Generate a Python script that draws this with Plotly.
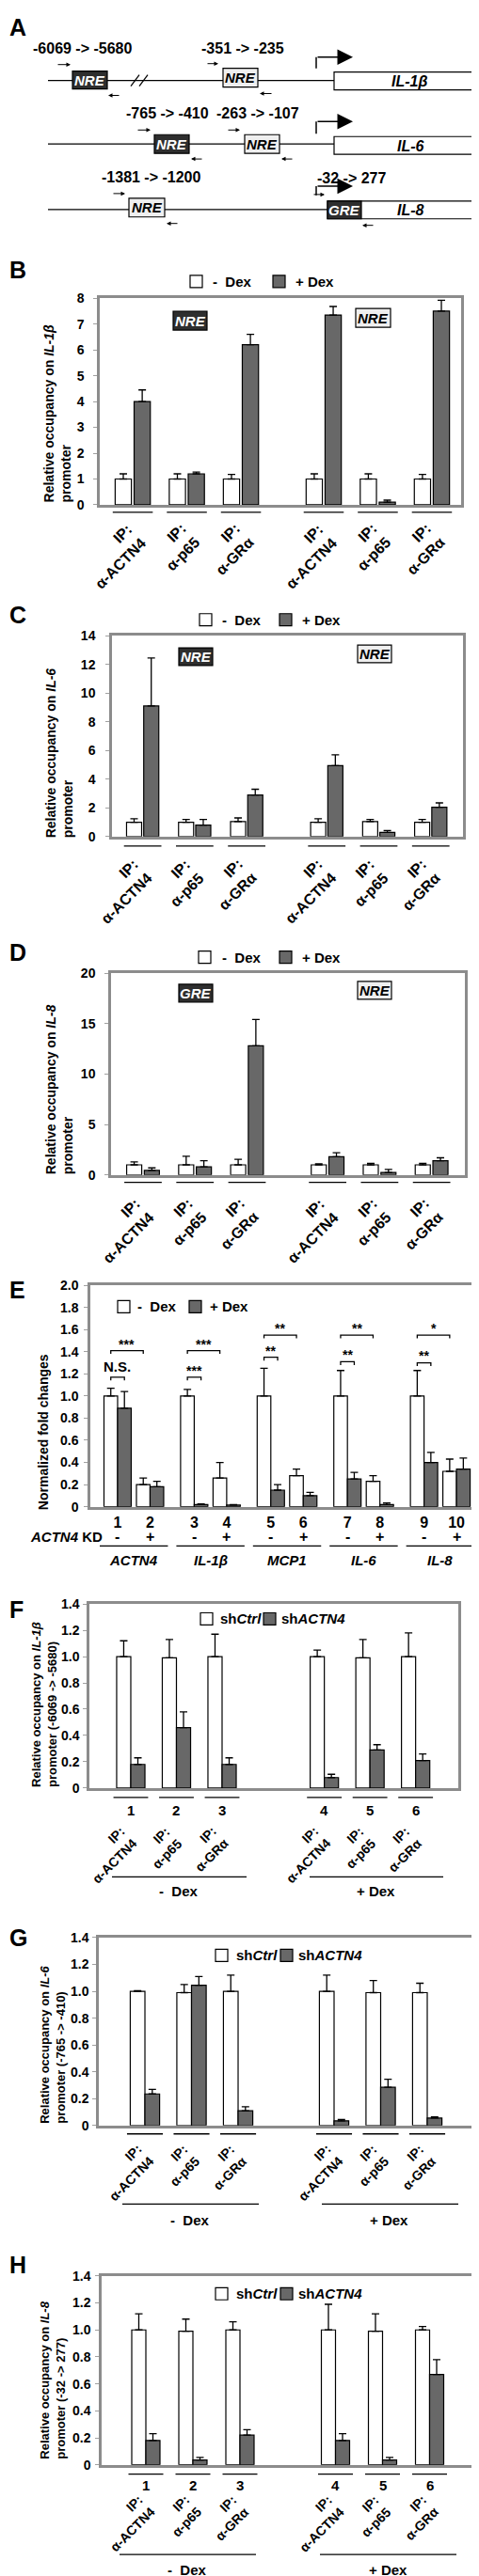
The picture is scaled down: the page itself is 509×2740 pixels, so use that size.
import plotly.graph_objects as go

# ---------------- data ----------------
ip_labels = ["IP:<br>α-ACTN4", "IP:<br>α-p65", "IP:<br>α-GRα",
             "IP:<br>α-ACTN4", "IP:<br>α-p65", "IP:<br>α-GRα"]
dex_labels = ["-  Dex", "+ Dex"]
sh_labels = ["sh<i>Ctrl</i>", "sh<i>ACTN4</i>"]

# B: IL-1beta promoter occupancy
B_minus = [1.0, 1.0, 1.0, 1.0, 1.0, 1.0]
B_minus_err = [0.2, 0.2, 0.18, 0.2, 0.2, 0.18]
B_plus = [4.0, 1.2, 6.2, 7.35, 0.1, 7.5]
B_plus_err = [0.45, 0.07, 0.4, 0.33, 0.08, 0.42]

# C: IL-6 promoter occupancy
C_minus = [1.0, 1.0, 1.05, 1.0, 1.05, 1.0]
C_minus_err = [0.25, 0.2, 0.25, 0.25, 0.15, 0.2]
C_plus = [9.1, 0.8, 2.9, 4.95, 0.3, 2.05]
C_plus_err = [3.35, 0.4, 0.4, 0.75, 0.12, 0.3]

# D: IL-8 promoter occupancy
D_minus = [1.0, 1.0, 1.0, 1.0, 1.0, 1.0]
D_minus_err = [0.3, 0.85, 0.55, 0.1, 0.15, 0.15]
D_plus = [0.45, 0.8, 12.8, 1.8, 0.25, 1.4]
D_plus_err = [0.25, 0.6, 2.6, 0.4, 0.3, 0.3]

# E: normalized fold changes
E_genes = ["<i>ACTN4</i>", "<i>IL-1β</i>", "<i>MCP1</i>", "<i>IL-6</i>", "<i>IL-8</i>"]
E_lanes = ["1", "2", "3", "4", "5", "6", "7", "8", "9", "10"]
E_kd = ["-", "+", "-", "+", "-", "+", "-", "+", "-", "+"]
E_minus = [1.0, 0.2, 1.0, 0.26, 1.0, 0.28, 1.0, 0.23, 1.0, 0.32]
E_minus_err = [0.07, 0.06, 0.06, 0.14, 0.25, 0.06, 0.23, 0.05, 0.23, 0.11]
E_plus = [0.89, 0.18, 0.02, 0.015, 0.15, 0.1, 0.25, 0.02, 0.4, 0.34]
E_plus_err = [0.15, 0.05, 0.005, 0.005, 0.05, 0.03, 0.06, 0.015, 0.09, 0.1]
E_sig_inner = ["N.S.", "***", "**", "**", "**"]
E_sig_outer = ["***", "***", "**", "**", "*"]
E_sig_inner_y = [1.17, 1.17, 1.35, 1.31, 1.30]
E_sig_outer_y = [1.41, 1.41, 1.55, 1.55, 1.55]

# F: IL-1beta promoter (-6069 -> -5680)
lanes6 = ["1", "2", "3", "4", "5", "6"]
F_ctrl = [1.0, 0.99, 1.0, 1.0, 0.99, 1.0]
F_ctrl_err = [0.12, 0.14, 0.17, 0.05, 0.14, 0.18]
F_kd = [0.18, 0.46, 0.18, 0.08, 0.29, 0.21]
F_kd_err = [0.05, 0.12, 0.05, 0.025, 0.04, 0.05]

# G: IL-6 promoter (-765 -> -410)
G_ctrl = [1.0, 0.99, 1.0, 1.0, 0.99, 0.99]
G_ctrl_err = [0.005, 0.06, 0.12, 0.12, 0.09, 0.07]
G_kd = [0.235, 1.045, 0.11, 0.035, 0.285, 0.055]
G_kd_err = [0.035, 0.065, 0.03, 0.01, 0.06, 0.01]

# H: IL-8 promoter (-32 -> 277)
H_ctrl = [1.0, 0.99, 1.0, 1.0, 0.99, 1.0]
H_ctrl_err = [0.12, 0.09, 0.06, 0.19, 0.13, 0.025]
H_kd = [0.18, 0.035, 0.22, 0.18, 0.035, 0.67]
H_kd_err = [0.05, 0.02, 0.04, 0.05, 0.02, 0.11]

# ---------------- helpers ----------------
W, H = 509, 2740
FONT = "Liberation Sans, Arial, Helvetica, sans-serif"
DARK = "#686868"
BOXDARK = "#2e2e2e"
FRAME = "#8c8c8c"


def px(x):
    return x / W


def py(y):
    return 1 - y / H


fig = go.Figure()
shapes, annos, lay = [], [], {}


def fnt(size, color="black"):
    return dict(family=FONT, size=size, color=color, weight="bold")


def txt(x, y, s, size=14, xanchor="center", yanchor="middle", color="black",
        xref="paper", yref="paper", angle=0, align="center"):
    annos.append(dict(x=x, y=y, xref=xref, yref=yref, text=s, showarrow=False,
                      xanchor=xanchor, yanchor=yanchor, font=fnt(size, color),
                      textangle=angle, align=align))


def line_px(x0, y0, x1, y1, w=1.3, color="black"):
    shapes.append(dict(type="line", xref="paper", yref="paper", x0=px(x0), y0=py(y0),
                       x1=px(x1), y1=py(y1), line=dict(color=color, width=w)))


def rect_px(x0, y0, x1, y1, fill, lw=1.2):
    shapes.append(dict(type="rect", xref="paper", yref="paper", x0=px(x0), y0=py(y1),
                       x1=px(x1), y1=py(y0), fillcolor=fill, line=dict(color="black", width=lw)))


def arrow_px(xh, yh, dx, w=1.0, head=2, size=0.9):
    annos.append(dict(x=px(xh), y=py(yh), xref="paper", yref="paper", ax=-dx, ay=0,
                      text="", showarrow=True, arrowhead=head, arrowsize=size,
                      arrowwidth=w, arrowcolor="black", standoff=0))


def elem_box(x0, y0, x1, y1, label, dark):
    rect_px(x0, y0, x1, y1, BOXDARK if dark else "#efefef")
    txt(px((x0 + x1) / 2), py((y0 + y1) / 2), "<i>%s</i>" % label, 15,
        color="white" if dark else "black")


def legend(y, wx, wtx, dx, dtx, labels, size=15):
    rect_px(wx, y - 6.5, wx + 13, y + 6.5, "white")
    txt(px(wtx), py(y), labels[0], size, xanchor="left")
    rect_px(dx, y - 6.5, dx + 13, y + 6.5, DARK)
    txt(px(dtx), py(y), labels[1], size, xanchor="left")


def bar_panel(i, box, pos, xr, yr, ytv, ytt, ystand,
              white, werr, dark, derr, bw, ig, xtt=None, xfs=16, xlen=0):
    sfx = "" if i == 1 else str(i)
    l, t, r, b = box
    xa = dict(domain=[px(l), px(r)], range=xr, anchor="y" + sfx,
              showline=True, mirror=True, linecolor=FRAME, linewidth=2.5,
              showgrid=False, zeroline=False, fixedrange=True, ticks="")
    if xtt is None:
        xa["showticklabels"] = False
    else:
        xa.update(tickmode="array", tickvals=pos, ticktext=xtt, tickangle=0,
                  ticks="", tickfont=fnt(xfs))
    lay["xaxis" + sfx] = xa
    lay["yaxis" + sfx] = dict(domain=[py(b), py(t)], range=yr, anchor="x" + sfx,
                              showline=True, mirror=True, linecolor=FRAME, linewidth=2.5,
                              showgrid=False, zeroline=False, tickmode="array",
                              tickvals=ytv, ticktext=ytt, ticks="outside", ticklen=4,
                              tickcolor="#a0a0a0", tickwidth=1, ticklabelstandoff=ystand,
                              tickfont=fnt(14), fixedrange=True)
    for vals, errs, fill, off in ((white, werr, "white", -bw - ig / 2),
                                  (dark, derr, DARK, ig / 2)):
        fig.add_trace(go.Bar(x=pos, y=vals, width=bw, offset=off,
                             marker=dict(color=fill, line=dict(color="black", width=1.2)),
                             error_y=dict(type="data", symmetric=False, array=errs,
                                          arrayminus=[0] * len(errs), color="black",
                                          thickness=1.3, width=4),
                             xaxis="x" + sfx, yaxis="y" + sfx, showlegend=False,
                             hoverinfo="skip"))


def rot_labels(i, pos, labels, dx, top, size):
    sfx = "" if i == 1 else str(i)
    for p, s in zip(pos, labels):
        annos.append(dict(x=p + dx, y=py(top), xref="x" + sfx, yref="paper", text=s,
                          showarrow=False, xanchor="right", yanchor="top", textangle=-45,
                          align="right", font=fnt(size)))


def group_lines(i, pos, ypix, half):
    sfx = "" if i == 1 else str(i)
    for p in pos:
        shapes.append(dict(type="line", xref="x" + sfx, yref="paper", x0=p - half, x1=p + half,
                           y0=py(ypix), y1=py(ypix), line=dict(color="black", width=1.3)))


def six_pos(gap):
    return [k + (gap if k >= 3 else 0) for k in range(6)]


def ytitle(xc, ybot, s, size=14):
    annos.append(dict(x=px(xc), y=py(ybot), xref="paper", yref="paper", text=s,
                      showarrow=False, xanchor="center", yanchor="bottom",
                      textangle=-90, align="left", font=fnt(size)))


# ---------------- panel labels ----------------
for lab, yc in (("A", 13), ("B", 273), ("C", 642), ("D", 1003), ("E", 1364),
                ("F", 1706), ("G", 2057), ("H", 2407)):
    txt(px(0), py(yc), lab, 25, xanchor="left")

# ---------------- panel A (schematic) ----------------
# IL-1beta
line_px(43, 70, 347, 70)
line_px(131, 76, 140, 64)
line_px(140, 76, 149, 64)
rect_px(347, 61, 508, 80, "white")
txt(px(427), py(71), "<i>IL-1β</i>", 16)
elem_box(69, 60, 106, 79, "NRE", True)
elem_box(229, 57, 266, 77, "NRE", False)
line_px(328, 57, 328, 45, 1.5)
arrow_px(367, 45, 39, 1.5, 2, 2.2)
txt(px(80), py(36), "-6069 -> -5680", 16)
txt(px(250), py(36), "-351 -> -235", 16)
arrow_px(67, 53, 15)
arrow_px(107, 86, -13)
arrow_px(224, 52, 13)
arrow_px(268, 84, -14)
# IL-6
line_px(43, 138, 347, 138)
rect_px(347, 130, 508, 149, "white")
txt(px(428), py(140), "<i>IL-6</i>", 16)
elem_box(156, 128, 193, 148, "NRE", True)
elem_box(252, 128, 289, 148, "NRE", False)
line_px(328, 127, 328, 114, 1.5)
arrow_px(367, 114, 39, 1.5, 2, 2.2)
txt(px(170), py(105), "-765 -> -410", 16)
txt(px(266), py(105), "-263 -> -107", 16)
arrow_px(152, 123, 15)
arrow_px(195, 154, -13)
arrow_px(247, 123, 14)
arrow_px(291, 154, -13)
# IL-8
line_px(43, 208, 340, 208)
rect_px(340, 199, 508, 218, "white")
txt(px(428), py(209), "<i>IL-8</i>", 16)
elem_box(129, 196, 167, 216, "NRE", False)
elem_box(340, 199, 376, 218, "GRE", True)
line_px(328, 193, 328, 183, 1.5)
arrow_px(367, 183, 39, 1.5, 2, 2.2)
txt(px(153), py(174), "-1381 -> -1200", 16)
txt(px(365), py(175), "-32 -> 277", 16)
arrow_px(125, 191, 14)
arrow_px(169, 223, -13)
arrow_px(337, 192, 13)
arrow_px(377, 225, -13)

# ---------------- panel B ----------------
pB = six_pos(0.53)
bar_panel(1, (98, 303, 482, 524), pB, [-0.61, 6.07], [0, 8], list(range(9)),
          [str(v) for v in range(9)], 7,
          B_minus, B_minus_err, B_plus, B_plus_err, 0.30, 0.05)
group_lines(1, pB, 532, 0.37)
rot_labels(1, pB, ip_labels, 0.35, 538, 16)
legend(285, 194, 216, 282, 304, dex_labels)
elem_box(176, 317, 212, 337, "NRE", True)
elem_box(370, 314, 407, 334, "NRE", False)
ytitle(53, 524, "Relative occupancy on <i>IL-1β</i><br>promoter")

# ---------------- panel C ----------------
pC = six_pos(0.54)
bar_panel(2, (111, 664, 484, 879), pC, [-0.59, 6.16], [0, 14], list(range(0, 15, 2)),
          [str(v) for v in range(0, 15, 2)], 8,
          C_minus, C_minus_err, C_plus, C_plus_err, 0.29, 0.04)
group_lines(2, pC, 889, 0.36)
rot_labels(2, pC, ip_labels, 0.3, 897, 16)
legend(647, 204, 226, 289, 311, dex_labels)
elem_box(182, 677, 218, 696, "NRE", True)
elem_box(372, 674, 408, 693, "NRE", False)
ytitle(55, 883, "Relative occupancy on <i>IL-6</i><br>promoter")

# ---------------- panel D ----------------
pD = six_pos(0.55)
bar_panel(3, (110, 1025, 486, 1241), pD, [-0.615, 6.19], [0, 20], [0, 5, 10, 15, 20],
          ["0", "5", "10", "15", "20"], 7,
          D_minus, D_minus_err, D_plus, D_plus_err, 0.29, 0.05)
group_lines(3, pD, 1249, 0.36)
rot_labels(3, pD, ip_labels, 0.33, 1260, 16)
legend(1008, 203, 226, 289, 311, dex_labels)
elem_box(182, 1037, 218, 1056, "GRE", True)
elem_box(372, 1034, 408, 1053, "NRE", False)
ytitle(55, 1243, "Relative occupancy on <i>IL-8</i><br>promoter")

# ---------------- panel E ----------------
pE = [g * 2.36 + k for g in range(5) for k in (0, 1)]
bwE = 0.42
eticks = [round(0.2 * k, 1) for k in range(11)]
bar_panel(4, (88, 1359, 504, 1596), pE, [-0.84, 11.22], [0, 2.0], eticks,
          ["0"] + ["%.1f" % v for v in eticks[1:]], 3,
          E_minus, E_minus_err, E_plus, E_plus_err, bwE, 0.0, xtt=E_lanes, xfs=16)
legend(1382, 117, 136, 193, 213, dex_labels)
ytitle(37.5, 1602, "Normalized fold changes", 14)
for g in range(5):
    p1, p2 = pE[2 * g], pE[2 * g + 1]
    xw1, xd1, xw2 = p1 - bwE / 2, p1 + bwE / 2, p2 - bwE / 2
    for (xa, xb, yb, lab) in ((xw1, xd1, E_sig_inner_y[g], E_sig_inner[g]),
                              (xw1, xw2, E_sig_outer_y[g], E_sig_outer[g])):
        shapes.append(dict(type="path", xref="x4", yref="y4",
                           path="M %f,%f L %f,%f L %f,%f L %f,%f" % (xa, yb - 0.03, xa, yb, xb, yb, xb, yb - 0.03),
                           line=dict(color="black", width=1.3)))
        if lab == "N.S.":
            txt((xa + xb) / 2, yb + 0.1, lab, 15, xref="x4", yref="y4")
        else:
            txt((xa + xb) / 2, yb + 0.06, lab, 14, xref="x4", yref="y4")
    # gene underline and label
    shapes.append(dict(type="line", xref="x4", yref="paper", x0=p1 - 0.55, x1=p2 + 0.55,
                       y0=py(1638), y1=py(1638), line=dict(color="black", width=1.3)))
    txt((p1 + p2) / 2, py(1653), E_genes[g], 15, xref="x4")
for p, s in zip(pE, E_kd):
    txt(p, py(1628), s, 16, xref="x4")
txt(px(103), py(1628), "<i>ACTN4</i> KD", 15, xanchor="right")

# ---------------- panel F ----------------
pF = six_pos(1.24)
fticks = [round(0.2 * k, 1) for k in range(8)]
fticktext = ["0"] + ["%.1f" % v for v in fticks[1:]]
bar_panel(5, (87, 1700, 479, 1897), pF, [-0.907, 7.175], [0, 1.4], fticks, fticktext,
          1, F_ctrl, F_ctrl_err, F_kd, F_kd_err, 0.31, 0.0)
group_lines(5, pF, 1907, 0.38)
rot_labels(5, pF, ip_labels, 0.25, 1932, 14)
for p, s in zip(pF, lanes6):
    txt(p, py(1921), s, 15, xref="x5")
legend(1716, 205, 224, 272, 289, sh_labels)
line_px(111, 1992, 254, 1992)
line_px(321, 1992, 463, 1992)
txt(px(182), py(2007), dex_labels[0], 15)
txt(px(391), py(2007), dex_labels[1], 15)
ytitle(39, 1898, "Relative occupancy on <i>IL-1β</i><br>promoter (-6069 -> -5680)", 13)

# ---------------- panel G ----------------
pG = six_pos(1.06)
bar_panel(6, (97, 2057, 497, 2258), pG, [-0.99, 7.09], [0, 1.4], fticks, fticktext,
          1, G_ctrl, G_ctrl_err, G_kd, G_kd_err, 0.315, 0.0)
group_lines(6, pG, 2267, 0.385)
rot_labels(6, pG, ip_labels, 0.3, 2272, 14)
legend(2076, 221, 241, 290, 307, sh_labels)
line_px(122, 2342, 267, 2342)
line_px(334, 2342, 479, 2342)
txt(px(194), py(2359), dex_labels[0], 15)
txt(px(405), py(2359), dex_labels[1], 15)
ytitle(48, 2258, "Relative occupancy on <i>IL-6</i><br>promoter (-765 -> -410)", 13)

# ---------------- panel H ----------------
pH = six_pos(1.03)
bar_panel(7, (100, 2419, 498, 2621), pH, [-0.94, 7.02], [0, 1.4], fticks, fticktext,
          2, H_ctrl, H_ctrl_err, H_kd, H_kd_err, 0.30, 0.0)
group_lines(7, pH, 2631, 0.37)
rot_labels(7, pH, ip_labels, 0.3, 2647, 14)
for p, s in zip(pH, lanes6):
    txt(p, py(2643), s, 15, xref="x7")
legend(2438, 221, 241, 290, 307, sh_labels)
line_px(119, 2717, 264, 2717)
line_px(332, 2717, 477, 2717)
txt(px(191), py(2733), dex_labels[0], 15)
txt(px(404), py(2733), dex_labels[1], 15)
ytitle(48, 2617, "Relative occupancy on <i>IL-8</i><br>promoter (-32 -> 277)", 13)

fig.update_layout(width=W, height=H, autosize=False, margin=dict(l=0, r=0, t=0, b=0),
                  paper_bgcolor="white", plot_bgcolor="white", showlegend=False,
                  barmode="overlay", font=fnt(14), shapes=shapes, annotations=annos, **lay)
fig.write_html("out.html")
